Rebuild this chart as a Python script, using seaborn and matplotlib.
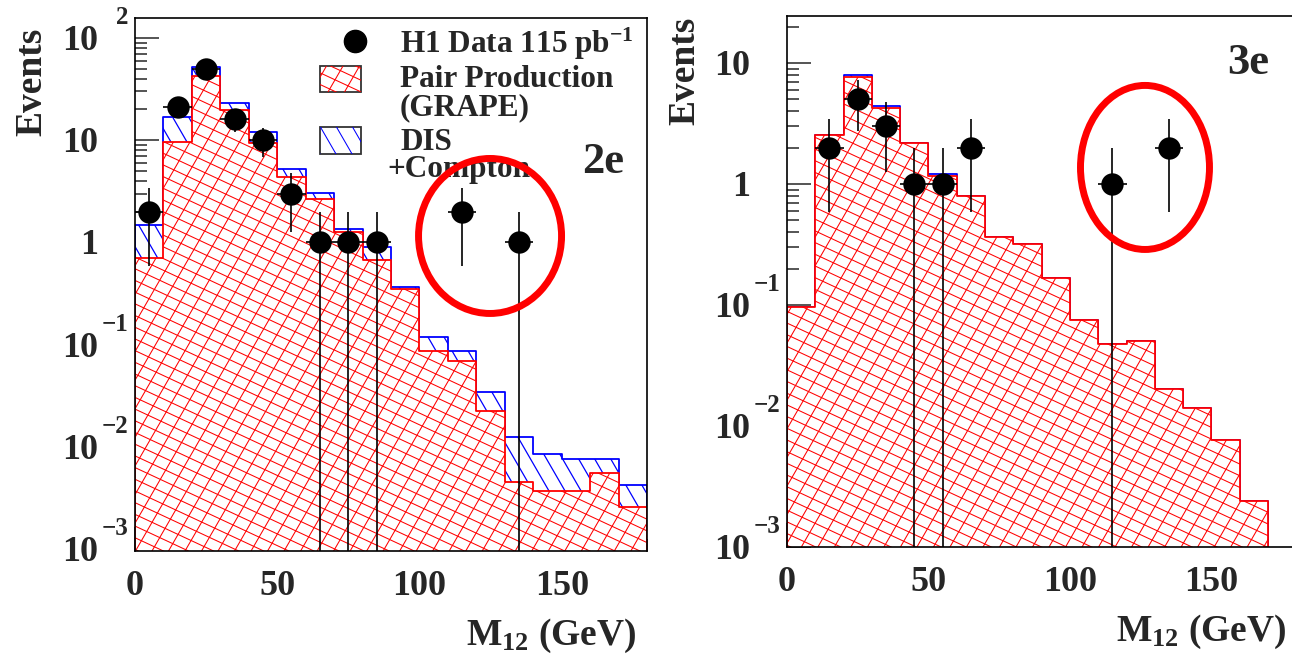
import numpy as np
import pandas as pd
import matplotlib
matplotlib.use("Agg")
import matplotlib.pyplot as plt
import seaborn as sns
from matplotlib.patches import Ellipse, Rectangle
from matplotlib.collections import LineCollection
from matplotlib.lines import Line2D
from matplotlib.ticker import FixedLocator, MultipleLocator, LogLocator, NullFormatter
from matplotlib.transforms import blended_transform_factory, IdentityTransform, offset_copy

# ---------------- data ----------------
edges_2e = [0, 10, 20, 30, 40, 50, 60, 70, 80, 90, 100, 110, 120, 130, 140, 150, 160, 170, 180]
pair_2e = [0.70, 9.67, 42.5, 19.7, 9.33, 4.39, 2.64, 1.26, 0.67, 0.35, 0.0866, 0.0696,
           0.0226, 0.00456, 0.00372, 0.00372, 0.00551, 0.00256]
dis_2e = [0.78, 7.3, 9.9, 3.3, 2.57, 0.80, 0.42, 0.08, 0.24, 0.019, 0.0314, 0.0175,
          0.012, 0.0080, 0.0048, 0.0039, 0.0021, 0.0017]
data_x_2e = [5, 15, 25, 35, 45, 55, 65, 75, 85, 115, 135]
data_n_2e = [2, 21, 50, 16, 10, 3, 1, 1, 1, 2, 1]

edges_3e = [0, 10, 20, 30, 40, 50, 60, 70, 80, 90, 100, 110, 120, 130, 140, 150, 160, 170]
pair_3e = [0.096, 2.54, 7.62, 4.22, 2.19, 1.16, 0.80, 0.367, 0.318, 0.168, 0.0751, 0.0476,
           0.0504, 0.0201, 0.0140, 0.00766, 0.00240]
dis_3e = [0, 0, 0.30, 0.17, 0, 0.045, 0, 0, 0, 0, 0, 0, 0, 0, 0, 0, 0]
data_x_3e = [15, 25, 35, 45, 55, 65, 115, 135]
data_n_3e = [2, 5, 3, 1, 1, 2, 1, 2]

x_ticks = [0, 50, 100, 150]
legend_labels = ["H1 Data 115 pb$^{\u2212 1}$", "Pair Production", "(GRAPE)", "DIS", "+Compton"]

# ---------------- style ----------------
sns.set_style("ticks")
plt.rcParams["font.family"] = ["Liberation Serif", "DejaVu Serif"]
plt.rcParams["font.weight"] = "bold"
plt.rcParams["axes.labelweight"] = "bold"
plt.rcParams["mathtext.fontset"] = "custom"
plt.rcParams["mathtext.rm"] = "Liberation Serif:bold"
plt.rcParams["mathtext.it"] = "Liberation Serif:bold"
plt.rcParams["mathtext.bf"] = "Liberation Serif:bold"
plt.rcParams["axes.unicode_minus"] = True

DPI = 100
fig = plt.figure(figsize=(12.92, 6.56), dpi=DPI)
fig.patch.set_facecolor("white")

ax1 = fig.add_axes([0.1045, 0.1601, 0.3963, 0.8125])
ax2 = fig.add_axes([0.6091, 0.1662, 0.3943, 0.8095])

RED = "#ff0000"
BLUE = "#0000ff"
RED_HATCH = [(60, 14.3), (-25, 10.6)]   # (angle deg, spacing px)
BLUE_HATCH = [(-60, 13.9)]


def add_hatch(ax, clip, clip_trans, region, families, color, lw, zorder):
    x0, y0, x1, y1 = region
    cx, cy = (x0 + x1) / 2, (y0 + y1) / 2
    L = np.hypot(x1 - x0, y1 - y0)
    for ang, spacing in families:
        segs = []
        t = np.deg2rad(ang)
        d = np.array([np.cos(t), np.sin(t)])
        nrm = np.array([-np.sin(t), np.cos(t)])
        for p in np.arange(-L / 2, L / 2 + spacing, spacing):
            c = np.array([cx, cy]) + p * nrm
            segs.append([c - L * d, c + L * d])
        lc = LineCollection(segs, colors=color, linewidths=lw,
                            transform=IdentityTransform(), zorder=zorder)
        ax.add_collection(lc, autolim=False)
        if clip_trans is None:
            lc.set_clip_path(clip)
        else:
            lc.set_clip_path(clip, clip_trans)


def draw_panel(ax, edges, pair, dis, dx, dn, ylim, decades, tag, tag_pos, ell, ylab_y):
    e = np.asarray(edges, dtype=float)
    centers = (e[:-1] + e[1:]) / 2
    pair_a = np.asarray(pair, dtype=float)
    total = pair_a + np.asarray(dis, dtype=float)
    df = pd.DataFrame({"M": centers, "pair": pair_a, "total": total})
    ax.set_yscale("log")
    bb = ax.bbox
    region = (bb.x0, bb.y0, bb.x1, bb.y1)

    # total (pair + DIS/Compton): blue
    sns.histplot(data=df, x="M", weights="total", bins=list(edges), element="step", fill=True,
                 facecolor="white", edgecolor=BLUE, linewidth=1.3, zorder=1.0, ax=ax)
    col_tot = ax.collections[-1]
    add_hatch(ax, col_tot.get_paths()[0], ax.transData, region, BLUE_HATCH, BLUE, 0.9, 1.1)

    # pair production: red
    sns.histplot(data=df, x="M", weights="pair", bins=list(edges), element="step", fill=True,
                 facecolor="white", edgecolor=RED, linewidth=1.3, zorder=1.2, ax=ax)
    col_pair = ax.collections[-1]
    add_hatch(ax, col_pair.get_paths()[0], ax.transData, region, RED_HATCH, RED, 0.75, 1.3)

    # data
    dn_arr = np.asarray(dn, dtype=float)
    ax.errorbar(dx, dn_arr, yerr=np.sqrt(dn_arr), xerr=5, fmt="none", ecolor="black",
                elinewidth=1.2, capsize=0, zorder=2.9)
    sns.scatterplot(x=dx, y=dn, color="black", s=260, marker="o", linewidth=0,
                    zorder=3, legend=False, ax=ax)

    ax.set_xlim(0, 180)
    ax.set_ylim(*ylim)
    ax.xaxis.set_major_locator(FixedLocator(x_ticks))
    ax.xaxis.set_minor_locator(MultipleLocator(10))
    ax.yaxis.set_major_locator(LogLocator(base=10, numticks=20))
    ax.yaxis.set_minor_locator(LogLocator(base=10, subs=np.arange(2, 10), numticks=20))
    ax.yaxis.set_major_formatter(NullFormatter())
    ax.yaxis.set_minor_formatter(NullFormatter())
    ax.tick_params(which="major", direction="in", length=17, width=1.1,
                   top=False, right=False, labelsize=26, pad=14)
    ax.tick_params(which="minor", direction="in", length=8.7, width=1.1,
                   top=False, right=False)
    for s in ax.spines.values():
        s.set_linewidth(1.2)
        s.set_color("black")
        s.set_zorder(5)
    ax.grid(False)

    # y tick labels in ROOT style (10 with exponent)
    trans = blended_transform_factory(ax.transAxes, ax.transData)
    tb = offset_copy(trans, fig=fig, x=-37, y=-12, units="dots")
    te = offset_copy(trans, fig=fig, x=-7, y=13.5, units="dots")
    for k in decades:
        v = 10.0 ** k
        if k == 0:
            ax.text(0, v, "1", transform=tb, ha="right", va="baseline", fontsize=26)
        elif k == 1:
            ax.text(0, v, "10", transform=tb, ha="right", va="baseline", fontsize=26)
        else:
            ax.text(0, v, "10", transform=tb, ha="right", va="baseline", fontsize=26)
            ex = str(k) if k > 0 else "\u2212" + str(-k)
            ax.text(0, v, ex, transform=te, ha="right", va="baseline", fontsize=18)

    ax.set_ylabel("Events", fontsize=27)
    ax.yaxis.set_label_coords(-0.201, ylab_y)
    ax.yaxis.label.set_va("center")
    ax.yaxis.label.set_ha("center")
    ax.set_xlabel("M$_{12}$ (GeV)", fontsize=27)
    ax.xaxis.set_label_coords(0.980, -0.176)
    ax.xaxis.label.set_ha("right")
    ax.xaxis.label.set_va("baseline")

    ax.text(tag_pos[0], tag_pos[1], tag, transform=ax.transAxes, fontsize=32,
            ha="center", va="center", zorder=4)
    ax.add_patch(Ellipse((ell[0], ell[1]), ell[2], ell[3], transform=ax.transAxes,
                         fill=False, edgecolor=RED, linewidth=5, zorder=6))


draw_panel(ax1, edges_2e, pair_2e, dis_2e, data_x_2e, data_n_2e,
           (9.56e-4, 157), [-3, -2, -1, 0, 1, 2], "2e", (0.914, 0.730),
           (0.6934, 0.5910, 0.2793, 0.2908), 0.88)
draw_panel(ax2, edges_3e, pair_3e, dis_3e, data_x_3e, data_n_3e,
           (1.0e-3, 24.5), [-3, -2, -1, 0, 1], "3e", (0.905, 0.911),
           (0.7028, 0.7147, 0.2532, 0.3089), 0.896)

# ---------------- legend (left panel) ----------------
ax = ax1
ax.add_line(Line2D([0.4297], [0.9559], transform=ax.transAxes, marker="o",
                   markersize=16, color="black", linestyle="none", zorder=4))
tx = 0.5176
LFS = 22.5
ax.text(tx, 0.9343, legend_labels[0], transform=ax.transAxes, fontsize=LFS,
        ha="left", va="baseline", zorder=4)
ax.text(tx, 0.8705, legend_labels[1], transform=ax.transAxes, fontsize=LFS,
        ha="left", va="baseline", zorder=4)
ax.text(tx, 0.8180, legend_labels[2], transform=ax.transAxes, fontsize=LFS,
        ha="left", va="baseline", zorder=4)
ax.text(tx, 0.7523, legend_labels[3], transform=ax.transAxes, fontsize=LFS,
        ha="left", va="baseline", zorder=4)
ax.text(0.4922, 0.7017, legend_labels[4], transform=ax.transAxes, fontsize=LFS,
        ha="left", va="baseline", zorder=4)

for (y0, y1, col, fam) in [(0.8612, 0.9099, RED, RED_HATCH), (0.7448, 0.7955, BLUE, BLUE_HATCH)]:
    rect = Rectangle((0.3613, y0), 0.4414 - 0.3613, y1 - y0, transform=ax.transAxes,
                     facecolor="white", edgecolor="#333333", linewidth=1.3, zorder=4)
    ax.add_patch(rect)
    ext = rect.get_window_extent(fig.canvas.get_renderer())
    add_hatch(ax, rect, None, (ext.x0, ext.y0, ext.x1, ext.y1), fam, col, 0.75, 4.1)

fig.savefig("out.png", dpi=DPI, facecolor="white")
